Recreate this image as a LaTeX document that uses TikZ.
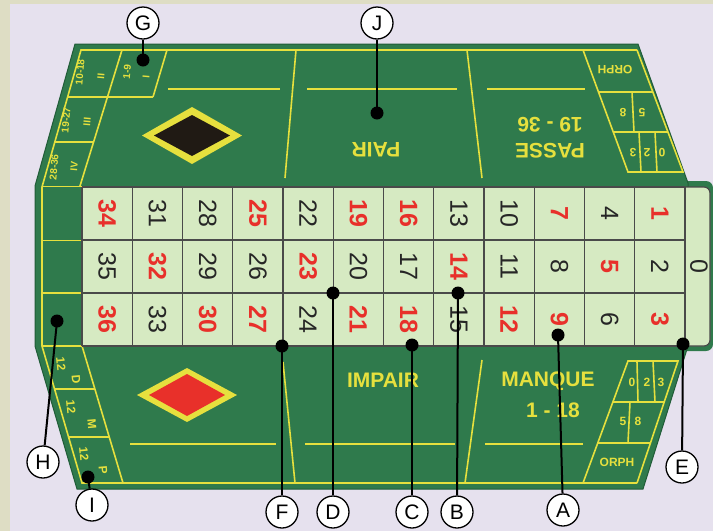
\documentclass[tikz,border=0pt]{standalone}
\usepackage{fontspec}
\setmainfont{Liberation Sans}
\definecolor{bgl}{HTML}{E6E1EE}
\definecolor{bgb}{HTML}{DEDDC4}
\definecolor{felt}{HTML}{2F7A4C}
\definecolor{feltd}{HTML}{215C38}
\definecolor{yel}{HTML}{E6E03E}
\definecolor{cellc}{HTML}{D6EAC2}
\definecolor{gridc}{HTML}{4A4A4A}
\definecolor{rednum}{HTML}{E8302A}
\definecolor{dkd}{HTML}{201A14}
\begin{document}
\begin{tikzpicture}[x=1pt,y=-1pt,
  yl/.style={draw=yel,line width=1.6pt},
  gl/.style={draw=gridc,line width=1.2pt},
  numr/.style={text=rednum,font=\fontsize{25}{25}\selectfont\bfseries,inner sep=0,rotate=-90},
  numb/.style={text=black!85,font=\fontsize{25}{25}\selectfont,inner sep=0,rotate=-90},
  bigy/.style={text=yel,font=\fontsize{21}{21}\selectfont\bfseries,inner sep=0},
  smy/.style={text=yel,font=\fontsize{10}{10}\selectfont\bfseries,inner sep=0},
  midy/.style={text=yel,font=\fontsize{12}{12}\selectfont\bfseries,inner sep=0},
  boxy/.style={text=yel,font=\fontsize{12}{12}\selectfont\bfseries,inner sep=0},
  lbl/.style={circle,draw=black,line width=1.3pt,fill=white,minimum size=32pt,inner sep=0,font=\fontsize{21}{21}\selectfont},
  dotn/.style={circle,fill=black,minimum size=13pt,inner sep=0},
  lead/.style={draw=black,line width=2pt}
]
% background
\fill[bgl] (0,0) rectangle (713,531);
\fill[bgb] (0,0) rectangle (713,4);
\fill[bgb] (0,0) rectangle (10,531);
\useasboundingbox (0,0) rectangle (713,531);
% table
\fill[felt,rounded corners=7] (680,181) -- (713,181) -- (713,351) -- (680,351) -- cycle;
\filldraw[fill=felt,draw=feltd,line width=1pt] (75,44) -- (638,44) -- (688,183) -- (688,346) -- (643,489) -- (77,489) -- (35,346) -- (35,186) -- cycle;
% yellow borders
\draw[yl] (637,50) -- (81,50) -- (42,187) -- (42,346) -- (82,483) -- (637,483);
% top-left boxes
\draw[yl] (122,50) -- (80,186);
\draw[yl] (167,50) -- (153,97);
\draw[yl] (67.6,97) -- (153,97);
\draw[yl] (54.8,142) -- (93.6,142);
% left strip
\draw[yl] (42,186.5) -- (82,186.5);
\draw[yl] (42,240.5) -- (82,240.5);
\draw[yl] (42,293) -- (82,293);
\draw[yl] (42,346) -- (82,346);
% bottom-left boxes
\draw[yl] (82,346) -- (123,483);
\draw[yl] (54.6,389) -- (94.9,389);
\draw[yl] (68.6,437) -- (109.2,437);
% top dividers and lines
\draw[yl] (296,50) -- (285,178);
\draw[yl] (467,50) -- (482,178);
\draw[yl] (168,89) -- (280,89);
\draw[yl] (307,89) -- (457,89);
\draw[yl] (487,89) -- (585,89);
% bottom dividers and lines
\draw[yl] (283,362) -- (295,483);
\draw[yl] (482,360) -- (465,483);
\draw[yl] (130,444) -- (276,444);
\draw[yl] (305,444) -- (455,444);
\draw[yl] (485,444) -- (583,444);
% top-right boxes
\draw[yl] (583,50) -- (628,172) -- (683,172) -- (637,50);
\draw[yl] (598.5,92) -- (652.8,92);
\draw[yl] (613.2,132) -- (667.9,132);
\draw[yl] (632,92) -- (634,132);
\draw[yl] (639,132) -- (641,172);
\draw[yl] (655,132) -- (657,172);
% bottom-right boxes
\draw[yl] (583,483) -- (628,361) -- (678,361) -- (637,483);
\draw[yl] (612.9,402) -- (664.2,402);
\draw[yl] (597.8,443) -- (650.4,443);
\draw[yl] (637,361) -- (638,402);
\draw[yl] (653,361) -- (655,402);
\draw[yl] (630,402) -- (628,443);
% diamonds
\fill[yel] (142,135.5) -- (192,107) -- (242,135.5) -- (192,164) -- cycle;
\fill[dkd] (154,135.5) -- (192,115) -- (230,135.5) -- (192,156) -- cycle;
\fill[yel] (137,395) -- (187,368) -- (237,395) -- (187,422) -- cycle;
\fill[rednum] (149,395) -- (187,374) -- (225,395) -- (187,416) -- cycle;
% grid
\fill[cellc] (82,187) rectangle (685,346);
\path[fill=cellc,draw=gridc,line width=1.2pt,rounded corners=6] (685,187) -- (710,187) -- (710,346) -- (685,346);
\foreach \i in {0,...,12} \draw[gl] ({82+50.25*\i},187) -- ({82+50.25*\i},346);
\foreach \yy in {187,240,293,346} \draw[gl] (82,\yy) -- (685,\yy);
% numbers
\foreach \n/\c/\r in {34/0/0,36/0/2,32/1/1,30/2/2,25/3/0,27/3/2,23/4/1,19/5/0,21/5/2,16/6/0,18/6/2,14/7/1,12/8/2,7/9/0,9/9/2,5/10/1,1/11/0,3/11/2}
  \node[numr] (c\n) at ({107.125+50.25*\c},{213.5+53*\r}) {\n};
\foreach \n/\c/\r in {35/0/1,31/1/0,33/1/2,28/2/0,29/2/1,26/3/1,22/4/0,24/4/2,20/5/1,17/6/1,13/7/0,15/7/2,10/8/0,11/8/1,8/9/1,4/10/0,6/10/2,2/11/1}
  \node[numb] (c\n) at ({107.125+50.25*\c},{213.5+53*\r}) {\n};
\node[numb] (c0) at (699,266.5) {0};
% big texts
\node[bigy,rotate=180] (pair) at (376,150) {PAIR};
\node[bigy,rotate=180] (passe) at (550,151) {PASSE};
\node[bigy,rotate=180] (p1936) at (550,125) {19 - 36};
\node[bigy] (impair) at (383,380) {IMPAIR};
\node[bigy] (manque) at (548,381) {MANQUE};
\node[bigy] (m118) at (553,410) {1 - 18};
% top-left box texts
\node[smy,rotate=85] (t19) at (127,72) {1-9};
\node[smy,rotate=85] (tI) at (146,77) {I};
\node[smy,rotate=85] (t1018) at (80,72) {10-18};
\node[smy,rotate=85] (tII) at (101,76) {II};
\node[smy,rotate=85] (t1927) at (66,120) {19-27};
\node[smy,rotate=85] (tIII) at (87,122) {III};
\node[smy,rotate=85] (t2836) at (54,167) {28-36};
\node[smy,rotate=85] (tIV) at (74,166) {IV};
% bottom-left box texts
\node[midy,rotate=-85] (d12) at (61,364) {12};
\node[midy,rotate=-85] (dD) at (76,379) {D};
\node[midy,rotate=-85] (m12) at (71,407) {12};
\node[midy,rotate=-85] (mM) at (92,424) {M};
\node[midy,rotate=-85] (p12) at (84,454) {12};
\node[midy,rotate=-85] (pP) at (103,470) {P};
% right box texts
\node[boxy,rotate=180] (orph1) at (615,70) {ORPH};
\node[boxy,rotate=180] (e8) at (623,113) {8};
\node[boxy,rotate=180] (e5) at (642,113) {5};
\node[boxy,rotate=180] (e3) at (633,153) {3};
\node[boxy,rotate=180] (e2) at (647,153) {2};
\node[boxy,rotate=180] (e0) at (662,153) {0};
\node[boxy] (f0) at (632,382) {0};
\node[boxy] (f2) at (647,382) {2};
\node[boxy] (f3) at (661,382) {3};
\node[boxy] (f5) at (623,421) {5};
\node[boxy] (f8) at (638,421) {8};
\node[boxy] (orph2) at (617,462) {ORPH};
% labels
\foreach \L/\lx/\ly/\dx/\dy in {G/143/23/143/60, J/377/23/377/113, H/43/462/57/321, I/92/505/88/477, F/282/512/282/346, D/333/512/333/293, C/412/512/412/345, B/457/512/458/293, A/563/510/558/335, E/682/467/683/344}{
  \node[dotn] (d\L) at (\dx,\dy) {};
  \node[lbl] (\L) at (\lx,\ly) {\L};
  \draw[lead] (\L) -- (d\L.center);
}
\end{tikzpicture}
\end{document}
